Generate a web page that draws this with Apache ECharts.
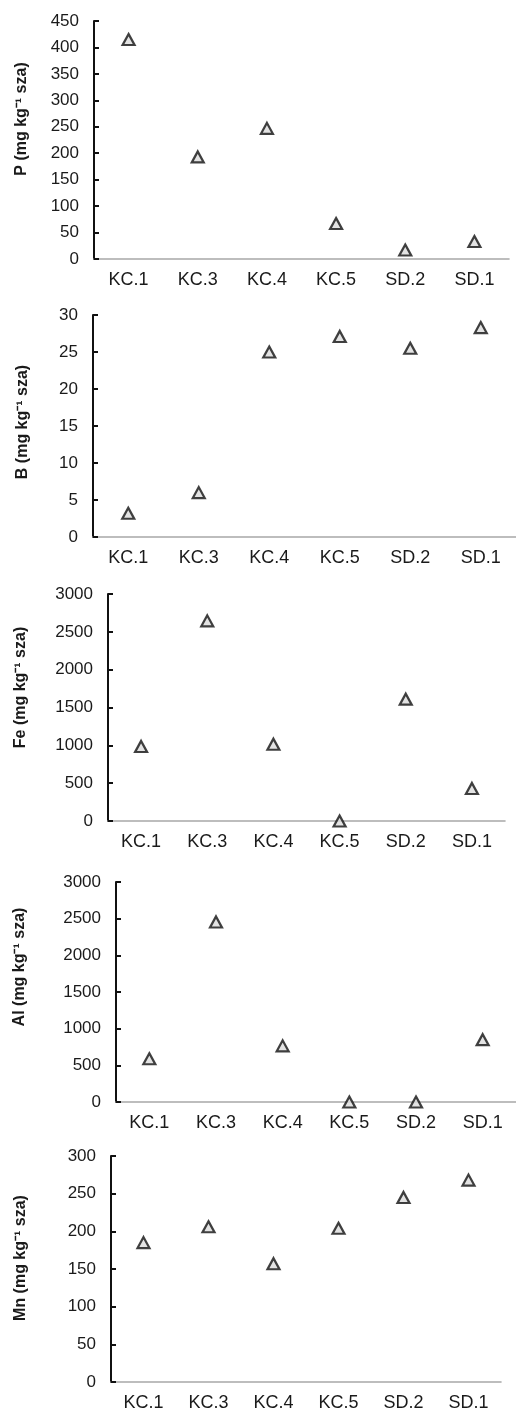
<!DOCTYPE html>
<html>
<head>
<meta charset="utf-8">
<script src="https://cdn.jsdelivr.net/npm/echarts@6/dist/echarts.min.js"></script>
<style>
  html, body { margin: 0; padding: 0; background: #ffffff; }
  #chart { width: 516px; height: 1412px; }
</style>
</head>
<body>
<div id="chart"></div>
<script>
// Sampling sites along the x axis
var categories = ['KC.1', 'KC.3', 'KC.4', 'KC.5', 'SD.2', 'SD.1'];

// Element concentrations per site (mg kg-1 dry matter)
var pValues  = [415, 193, 247, 67, 17, 33];
var bValues  = [3.2, 6.0, 25.0, 27.1, 25.5, 28.3];
var feValues = [985, 2645, 1015, 0, 1610, 430];
var alValues = [590, 2455, 765, 0, 0, 850];
var mnValues = [185, 206, 157, 204, 245, 268];

// Axis titles and y scales for each panel
var axisTitles = ['P (mg kg⁻¹ sza)', 'B (mg kg⁻¹ sza)', 'Fe (mg kg⁻¹ sza)', 'Al (mg kg⁻¹ sza)', 'Mn (mg kg⁻¹ sza)'];
var yMax       = [450, 30, 3000, 3000, 300];
var yStep      = [50, 5, 500, 500, 50];

var panelValues = [pValues, bValues, feValues, alValues, mnValues];

// Panel layout: plot area boxes and title placement
var layout = [
  { left: 94,  top: 21,   width: 415, height: 238, nameGap: 64, shift: 42 },
  { left: 93,  top: 315,  width: 424, height: 222, nameGap: 62, shift: 8 },
  { left: 108, top: 594,  width: 397, height: 227, nameGap: 79, shift: 40 },
  { left: 116, top: 882,  width: 402, height: 220, nameGap: 88, shift: 50 },
  { left: 111, top: 1156, width: 390, height: 226, nameGap: 82, shift: 22 }
];

var FONT = '"Liberation Sans", Arial, Helvetica, sans-serif';

var grids = [], xAxes = [], yAxes = [], series = [];
layout.forEach(function (g, i) {
  grids.push({ left: g.left, top: g.top, width: g.width, height: g.height, containLabel: false });
  xAxes.push({
    type: 'category',
    gridIndex: i,
    data: categories,
    boundaryGap: true,
    axisLine: { show: true, lineStyle: { color: '#a8a8a8', width: 1.6 } },
    axisTick: { show: false },
    axisLabel: { color: '#1a1a1a', fontSize: 18, fontFamily: FONT, margin: 12 },
    splitLine: { show: false }
  });
  yAxes.push({
    type: 'value',
    gridIndex: i,
    min: 0,
    max: yMax[i],
    interval: yStep[i],
    name: axisTitles[i],
    nameLocation: 'middle',
    nameRotate: 90,
    nameGap: g.nameGap,
    nameTextStyle: {
      color: '#1a1a1a', fontSize: 16, fontWeight: 'bold', fontFamily: FONT,
      padding: [0, 0, 0, g.shift]
    },
    axisLine: { show: true, lineStyle: { color: '#111111', width: 2 } },
    axisTick: { show: true, inside: true, length: 5, lineStyle: { color: '#111111', width: 2 } },
    axisLabel: {
      color: '#1a1a1a', fontSize: 17, fontFamily: FONT, margin: 15,
      formatter: function (v) { return String(v); }
    },
    splitLine: { show: false }
  });
  series.push({
    type: 'scatter',
    xAxisIndex: i,
    yAxisIndex: i,
    data: panelValues[i],
    symbol: 'triangle',
    symbolSize: [12, 11],
    itemStyle: { color: '#dcdcdc', borderColor: '#111111', borderWidth: 2.2 },
    emphasis: { disabled: true }
  });
});

var chart = echarts.init(document.getElementById('chart'), null, { renderer: 'canvas' });
chart.setOption({
  animation: false,
  backgroundColor: '#ffffff',
  grid: grids,
  xAxis: xAxes,
  yAxis: yAxes,
  series: series
});
</script>
</body>
</html>
